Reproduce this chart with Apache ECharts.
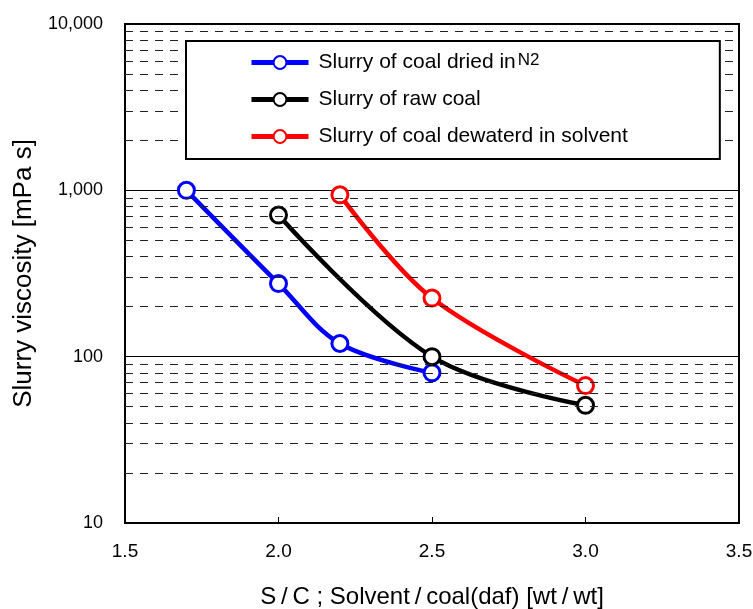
<!DOCTYPE html>
<html>
<head>
<meta charset="utf-8">
<script src="https://cdn.jsdelivr.net/npm/echarts@6/dist/echarts.min.js"></script>
<style>
html,body{margin:0;padding:0;background:#fff;}
#chart{width:753px;height:609px;}
</style>
</head>
<body>
<div id="chart"></div>
<script>
// ---- data ----
var seriesNames = ['Slurry of coal dried in N2', 'Slurry of raw coal', 'Slurry of coal dewaterd in solvent'];
var xDried = [1.7, 2.0, 2.2, 2.5];
var yDried = [1000, 275, 120, 80];
var xRaw = [2.0, 2.5, 3.0];
var yRaw = [710, 100, 51];
var xDewatered = [2.2, 2.5, 3.0];
var yDewatered = [940, 225, 67];
var minorGridValues = [20, 30, 40, 50, 60, 70, 80, 90, 200, 300, 400, 500, 600, 700, 800, 900, 2000, 3000, 4000, 5000, 6000, 7000, 8000, 9000];
var xTitle = 'S\u2009/\u2009C ; Solvent\u2009/\u2009coal(daf) [wt\u2009/\u2009wt]';
var yTitle = 'Slurry viscosity [mPa s]';

function pairs(xs, ys) { return xs.map(function (x, i) { return [x, ys[i]]; }); }

var FONT = '"Liberation Sans", Arial, sans-serif';

function lineSeries(name, xs, ys, color) {
  return {
    name: name,
    type: 'line',
    data: pairs(xs, ys),
    smooth: 0.35,
    symbol: 'circle',
    symbolSize: 16,
    lineStyle: { color: color, width: 4.5 },
    itemStyle: { color: '#fff', borderColor: color, borderWidth: 3 },
    z: 3
  };
}

var chart = echarts.init(document.getElementById('chart'), null, { renderer: 'canvas' });
chart.setOption({
  animation: false,
  backgroundColor: '#fff',
  grid: { left: 125, right: 14, top: 24, bottom: 86, show: true, borderColor: '#000', borderWidth: 2, backgroundColor: 'transparent', containLabel: false, outerBoundsMode: 'none' },
  xAxis: {
    type: 'value', min: 1.5, max: 3.5, interval: 0.5,
    name: xTitle, nameLocation: 'middle', nameGap: 62,
    nameTextStyle: { fontFamily: FONT, fontSize: 24, color: '#000' },
    axisLine: { show: true, onZero: false, lineStyle: { color: '#000', width: 2 } },
    axisTick: { show: true, inside: true, length: 6, lineStyle: { color: '#000', width: 1 } },
    axisLabel: { fontFamily: FONT, fontSize: 19, color: '#000', margin: 19, formatter: function (v) { return v.toFixed(1); } },
    splitLine: { show: false }
  },
  yAxis: {
    type: 'log', logBase: 10, min: 10, max: 10000,
    name: yTitle, nameLocation: 'middle', nameGap: 88, nameRotate: 90,
    nameTextStyle: { fontFamily: FONT, fontSize: 26, color: '#000' },
    axisLine: { show: true, lineStyle: { color: '#000', width: 2 } },
    axisTick: { show: false },
    axisLabel: { fontFamily: FONT, fontSize: 18, color: '#000', margin: 22, formatter: function (v) { return Math.round(v).toLocaleString('en-US'); } },
    splitLine: { show: true, lineStyle: { color: '#000', width: 1 } }
  },
  legend: {
    orient: 'vertical', left: 186, top: 41,
    padding: [11, 92, 12, 63],
    itemWidth: 57, itemHeight: 16, itemGap: 16,
    backgroundColor: '#fff', borderColor: '#000', borderWidth: 2,
    lineStyle: { width: 5 },
    data: seriesNames,
    textStyle: { fontFamily: FONT, fontSize: 21, lineHeight: 21, color: '#000', padding: [0, 0, 0, 5],
      rich: { sub: { fontFamily: FONT, fontSize: 17, lineHeight: 21, color: '#000', padding: [0, 0, 4, 2] } } },
    formatter: function (name) {
      if (name === seriesNames[0]) return 'Slurry of coal dried in{sub|N2}';
      return name;
    },
    z: 10
  },
  series: [
    {
      type: 'line', data: [], silent: true, z: 1,
      markLine: {
        silent: true, symbol: 'none', animation: false,
        label: { show: false },
        lineStyle: { color: '#222', width: 1, type: [8, 7] },
        data: minorGridValues.map(function (v) { return { yAxis: v }; })
      }
    },
    lineSeries(seriesNames[0], xDried, yDried, '#0000ff'),
    lineSeries(seriesNames[1], xRaw, yRaw, '#000000'),
    lineSeries(seriesNames[2], xDewatered, yDewatered, '#ff0000')
  ]
});
</script>
</body>
</html>
